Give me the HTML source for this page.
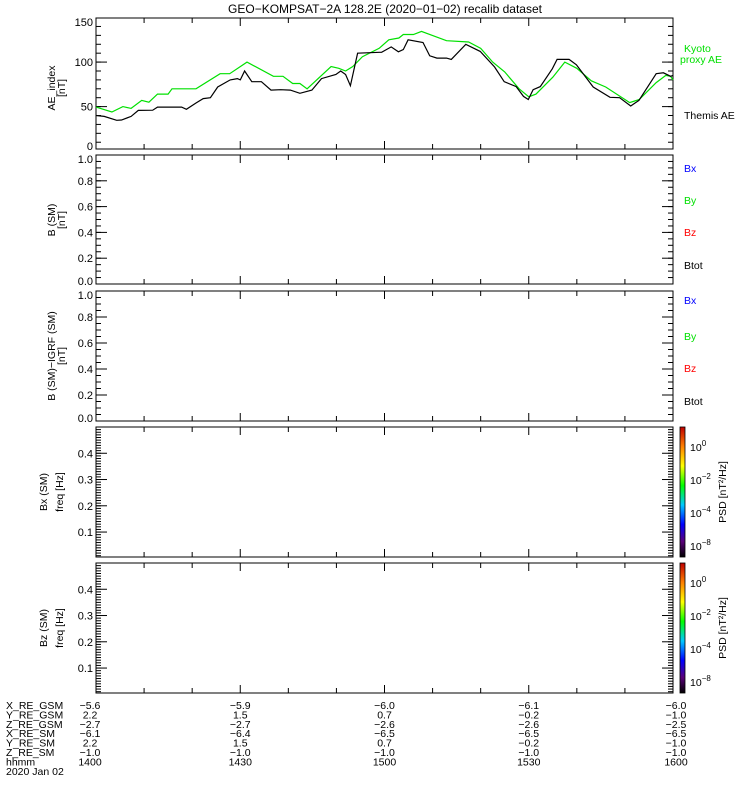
<!DOCTYPE html>
<html><head><meta charset="utf-8"><style>
html,body{margin:0;padding:0;background:#fff;}
svg{display:block;font-family:"Liberation Sans",sans-serif;}
</style></head><body>
<svg id="c" width="750" height="800" viewBox="0 0 750 800" xmlns="http://www.w3.org/2000/svg">
<defs><linearGradient id="cb" x1="0" y1="1" x2="0" y2="0">
<stop offset="0" stop-color="#000"/><stop offset="0.12" stop-color="#5a007a"/><stop offset="0.25" stop-color="#0000ff"/><stop offset="0.4" stop-color="#00c8ff"/><stop offset="0.55" stop-color="#00ff00"/><stop offset="0.7" stop-color="#ffff00"/><stop offset="0.85" stop-color="#ff8000"/><stop offset="1" stop-color="#c00000"/></linearGradient></defs>
<text x="385" y="13" font-size="12" text-anchor="middle">GEO−KOMPSAT−2A 128.2E (2020−01−02) recalib dataset</text>
</svg>
<script>
// time (minutes after 14:00) and AE values
const kyotoT=[0,3.3,5.6,7.3,9.5,11,12.8,15,15.8,20.8,25.8,27.8,31.4,36.9,38.9,40.9,42.4,43.9,48.9,50.5,51.9,53.4,55.4,58.9,60.9,63,63.9,66,67.7,72.9,77.5,80,82.5,85,88,90,91.5,95,97.5,100,103,106,111,113,116.5,118.5,119.5,120];
const kyotoAE=[49.5,44,50,48,57,55,64,64,70,70,87,87,100,84,84,76,76,70,95,93,90,95,106,115.5,125,127,131,131,134.5,124,122.5,115.5,100,89,70,61,64,83,100,93,79,72,54.5,58,77,85,84,80];
const themisT=[0,1.7,4.3,5.3,7.3,8.8,11.8,12.8,17.8,18.8,20.8,22.3,23.8,25.3,27.9,29.4,30,30.9,32.4,34.4,36.4,38.4,40.4,42.4,44.9,46.9,49.9,50.9,51.9,52.9,54.4,58.9,59.4,61.4,62.9,63.9,64.9,68,69.4,70.9,72.9,73.9,76.9,79.9,82.9,84.9,87.4,88.9,89.9,90.9,92.4,94.9,95.9,98.4,99.9,103.4,106.9,108.9,111.2,112.9,116.5,118,119.5,120];
const themisAE=[40,39,34.6,35,39,45.7,46,49.5,49.5,47,54,59,60,72,80,81.5,80,90,78,78,68.5,69,68.5,65,68.5,81.5,86,90,86,73.5,110,111,111,117,111.5,114,125,122,107,104.5,104.5,103,120,112,94.5,78,72.5,61.5,58,69,72.5,92.5,103,103,97,72,60.5,60,50.7,57,87,88,84,85];
const aeTicks=[0,50,100,150];
const bTicks=["0.0","0.2","0.4","0.6","0.8","1.0"];
const fTicks=["0.1","0.2","0.3","0.4"];
const timeLabels=["1400","1430","1500","1530","1600"];
const rowNames=["X_RE_GSM","Y_RE_GSM","Z_RE_GSM","X_RE_SM","Y_RE_SM","Z_RE_SM","hhmm"];
const rowX=["−5.6","−5.9","−6.0","−6.1","−6.0"];
const rowY=["2.2","1.5","0.7","−0.2","−1.0"];
const rowZ=["−2.7","−2.7","−2.6","−2.6","−2.5"];
const rowXs=["−6.1","−6.4","−6.5","−6.5","−6.5"];
const rowYs=["2.2","1.5","0.7","−0.2","−1.0"];
const rowZs=["−1.0","−1.0","−1.0","−1.0","−1.0"];

const svg=document.getElementById('c');
const NS="http://www.w3.org/2000/svg";
const X0=96,X1=673;
const xs=t=>X0+(X1-X0)*t/120;
function mk(tag,at,parent){const e=document.createElementNS(NS,tag);for(const k in at)e.setAttribute(k,at[k]);(parent||svg).appendChild(e);return e;}
function line(x1,y1,x2,y2){return mk('line',{x1,y1,x2,y2,stroke:'#000','stroke-width':1});}
function txt(s,x,y,anchor,size,fill){const e=mk('text',{x,y,'font-size':size||11,'text-anchor':anchor||'start',fill:fill||'#000'});e.textContent=s;return e;}

const panels=[
 {top:18,bot:149,min:2.4,max:149.5},
 {top:155,bot:284,min:0,max:1},
 {top:291,bot:421,min:0,max:1},
 {top:427,bot:557,min:0.005,max:0.5},
 {top:563,bot:693,min:0.005,max:0.5}];
const pnames=['ae-panel','b-sm-panel','b-igrf-panel','bx-spectrogram-panel','bz-spectrogram-panel'];
panels.forEach((p,i)=>{
  const g=mk('g',{});
  
  
  p.ys=v=>p.bot-(p.bot-p.top)*(v-p.min)/(p.max-p.min);
  mk('rect',{x:X0,y:p.top,width:X1-X0,height:p.bot-p.top,fill:'none',stroke:'#000','stroke-width':1},g);
  for(let m=0;m<=120;m+=10){const L=(m%30==0)?8:5;const x=xs(m);
    mk('line',{x1:x,y1:p.bot,x2:x,y2:p.bot-L,stroke:'#000'},g);mk('line',{x1:x,y1:p.top,x2:x,y2:p.top+L,stroke:'#000'},g);}
});
function yticks(p,majors,minorStep,labels){
  for(let v=0;v<=p.max+1e-9;v+=minorStep){if(v<p.min-1e-9)continue;const y=p.ys(v);
    line(X0,y,X0+5,y);line(X1,y,X1-5,y);}
  majors.forEach((v,i)=>{let y=p.ys(v);
    if(v>=p.min-1e-9&&v<=p.max+1e-9){line(X0,y,X0+11,y);line(X1,y,X1-11,y);}
    y=Math.min(Math.max(y,p.top+4),p.bot-3);
    const t=txt(labels[i],X0-3,y+4,'end',11);});
}
yticks(panels[0],aeTicks,10,aeTicks.map(String));
[1,2].forEach(i=>yticks(panels[i],bTicks.map(Number),0.05,bTicks));
[3,4].forEach(i=>yticks(panels[i],fTicks.map(Number),0.01,fTicks));

// AE lines
const P=panels[0];
function series(T,V,color,name){
  const d=T.map((t,i)=>(i?'L':'M')+xs(t).toFixed(1)+' '+P.ys(V[i]).toFixed(1)).join(' ');
  const e=mk('path',{d,fill:'none',stroke:color,'stroke-width':1.2});
  
  
}
series(kyotoT,kyotoAE,'#00e000','kyoto-ae-line');
series(themisT,themisAE,'#000','themis-ae-line');

// y-axis titles
function vtitle(lines,x,cy,gap){lines.forEach((s,i)=>{const xx=x+i*gap;const t=txt(s,xx,cy,'middle',10.5);t.setAttribute('transform',`rotate(-90 ${xx} ${cy})`);});}
vtitle(['AE_index','[nT]'],55,88,10);
vtitle(['B (SM)','[nT]'],55,220,10);
vtitle(['B (SM)−IGRF (SM)','[nT]'],55,356,10);
vtitle(['Bx (SM)','freq [Hz]'],47,492,16);
vtitle(['Bz (SM)','freq [Hz]'],47,628,16);

// legends
function leg(s,x,y,c){const t=txt(s,x,y,'start',10.5,c);}
leg('Kyoto',684,52,'#00e000');leg('proxy AE',680,63,'#00e000');leg('Themis AE',684,119,'#000');
[[172,304],[204,340],[236,372],[269,405]].forEach((ys,k)=>{
  const lab=['Bx','By','Bz','Btot'][k],col=['#0000ff','#00e000','#ff0000','#000'][k];
  leg(lab,684,ys[0],col);leg(lab,684,ys[1],col);});

// colorbars
[3,4].forEach(i=>{const p=panels[i];
  const r=mk('rect',{x:680,y:p.top,width:5,height:p.bot-p.top,fill:'url(#cb)',stroke:'#000','stroke-width':0.8});
  
  const exps=['0','−2','−4','−8'];
  exps.forEach((e,k)=>{const y=p.top+24+k*33;
    const t=mk('text',{x:690,y:y,'font-size':10.5});t.textContent='10';
    const s=mk('tspan',{dy:-5,'font-size':8},t);s.textContent=e;});
  const t=txt('PSD [nT²/Hz]',726,(p.top+p.bot)/2,'middle',10.5);t.setAttribute('transform',`rotate(-90 726 ${(p.top+p.bot)/2})`);
  
});

// bottom table
const rows=[rowX,rowY,rowZ,rowXs,rowYs,rowZs,timeLabels];
rowNames.forEach((n,r)=>{const y=709+r*9.4;
  const t=txt(n,6,y,'start',10.5);
  rows[r].forEach((v,c)=>{let x=xs(c*30);if(c==0)x=90;if(c==4)x=676;
    const e=txt(v,x,y,'middle',10.5);});
});
const d=txt('2020 Jan 02',6,709+7*9.4,'start',10.5);
</script>
</body></html>
